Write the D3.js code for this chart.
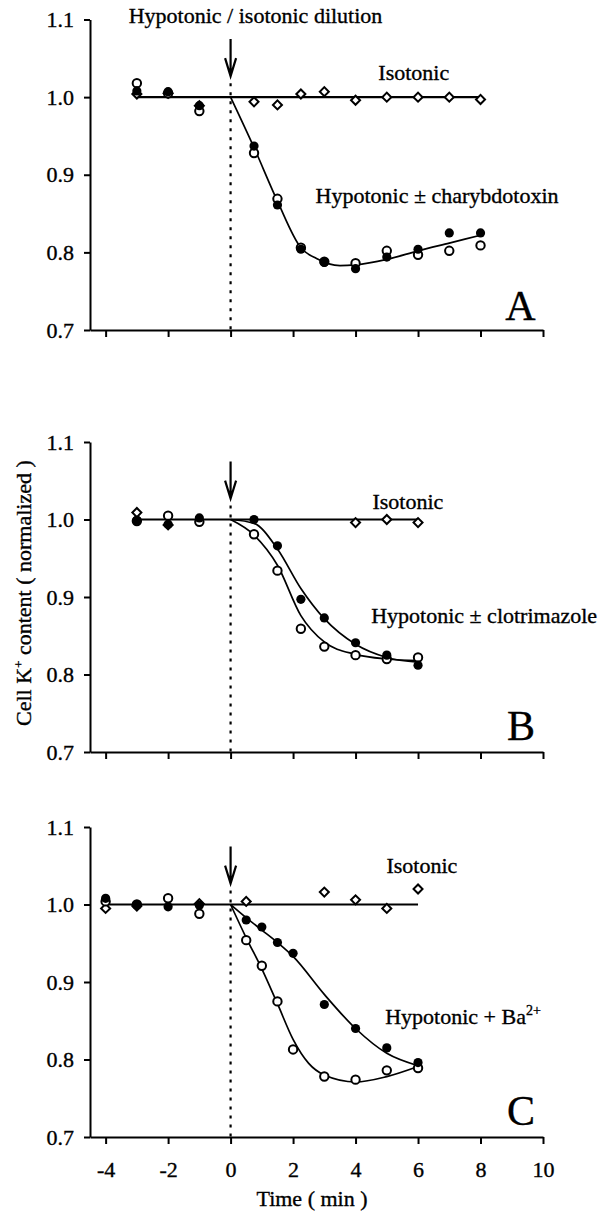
<!DOCTYPE html>
<html>
<head>
<meta charset="utf-8">
<script src="https://d3js.org/d3.v7.min.js"></script>
<style>
  body { margin: 0; background: #fff; }
  svg text { font-family: "Liberation Serif", "Times New Roman", serif; fill: #000; stroke: #000; stroke-width: 0.35; }
  .axis path, .axis line { stroke: #000; stroke-width: 2; }
  .axis text { font-size: 22px; }
</style>
</head>
<body>
<svg id="fig" width="603" height="1214"></svg>
<script>

// ---- data (time in min, K+ normalized)
const timeTicks = [-4, -2, 0, 2, 4, 6, 8, 10];
const kTicks = [0.7, 0.8, 0.9, 1.0, 1.1];

// Panel A : hypotonic +/- charybdotoxin
const aTime = [-3, -2, -1, 0.75, 1.5, 2.25, 3, 4, 5, 6, 7, 8];
const aFilled = [1.008, 1.007, 0.989, 0.937, 0.861, 0.804, 0.787, 0.779, 0.794, 0.804, 0.825, 0.825];
const aOpen = [1.018, 1.005, 0.982, 0.928, 0.869, 0.806, 0.788, 0.786, 0.802, 0.797, 0.802, 0.809];
const aIso = [1.004, 1.005, 0.989, 0.994, 0.990, 1.004, 1.007, 0.996, 1.000, 1.000, 1.000, 0.997];
const aIsoLine = [-3, 8];
const aFitTime = [0, 0.75, 1.5, 2.25, 2.75, 3.5, 4, 5, 6, 7, 8];
const aFit = [1.0, 0.935, 0.866, 0.806, 0.792, 0.783, 0.784, 0.791, 0.802, 0.812, 0.822];

// Panel B : hypotonic +/- clotrimazole
const bTime = [-3, -2, -1, 0.75, 1.5, 2.25, 3, 4, 5, 6];
const bFilled = [0.999, 0.994, 1.002, 1.000, 0.966, 0.897, 0.873, 0.841, 0.825, 0.812];
const bOpen = [0.998, 1.005, 0.997, 0.981, 0.934, 0.859, 0.836, 0.825, 0.820, 0.822];
const bIsoTime = [-3, -2, 4, 5, 6];
const bIso = [1.009, 0.993, 0.996, 1.000, 0.996];
const bIsoLine = [-3, 6];
const bFilledFitTime = [0, 0.75, 1.5, 2.25, 3, 4, 5, 6];
const bFilledFit = [1.0, 0.995, 0.962, 0.911, 0.872, 0.839, 0.822, 0.816];
const bOpenFitTime = [0, 0.75, 1.5, 2.25, 3, 4, 5, 6];
const bOpenFit = [1.0, 0.980, 0.941, 0.876, 0.842, 0.826, 0.820, 0.818];

// Panel C : hypotonic + Ba2+
const cTime = [-4, -3, -2, -1, 0.5, 1, 1.5, 2, 3, 4, 5, 6];
const cFilled = [1.008, 1.000, 0.997, 0.999, 0.980, 0.971, 0.951, 0.937, 0.871, 0.840, 0.815, 0.796];
const cOpen = [1.004, 1.000, 1.008, 0.988, 0.954, 0.921, 0.875, 0.813, 0.778, 0.774, 0.786, 0.789];
const cIsoTime = [-4, -3, -1, 0.5, 3, 4, 5, 6];
const cIso = [0.995, 0.998, 1.001, 1.004, 1.016, 1.006, 0.995, 1.020];
const cIsoLine = [-4, 6];
const cFilledFitTime = [0, 0.5, 1, 1.5, 2, 3, 4, 5, 6];
const cFilledFit = [1.0, 0.983, 0.967, 0.951, 0.933, 0.884, 0.840, 0.808, 0.792];
const cOpenFitTime = [0, 0.5, 1, 1.5, 2, 2.5, 3, 4, 5, 6];
const cOpenFit = [1.0, 0.957, 0.917, 0.872, 0.826, 0.795, 0.780, 0.771, 0.778, 0.791];


const svg = d3.select('svg#fig');

// shared time scale
const x = d3.scaleLinear().domain([-4.5, 10]).range([90, 543]);

const zip = (t, v) => t.map((d, i) => [d, v[i]]);

function drawPanel(p) {
  const y = d3.scaleLinear().domain([0.7, 1.1]).range([p.bottom, p.top]);
  const g = svg.append('g');

  // axes
  g.append('g').attr('class', 'axis')
    .attr('transform', `translate(${x(-4.5)},0)`)
    .call(d3.axisLeft(y).tickValues(kTicks).tickFormat(d3.format('.1f'))
      .tickSize(6).tickSizeOuter(0).tickPadding(10));

  g.append('g').attr('class', 'axis')
    .attr('transform', `translate(0,${p.bottom})`)
    .call(d3.axisBottom(x).tickValues(timeTicks)
      .tickFormat(p.labels ? (d => String(d)) : '')
      .tickSize(7).tickSizeOuter(0).tickPadding(17));

  // dilution arrow + dotted line at t = 0
  g.append('line')
    .attr('x1', x(0)).attr('x2', x(0))
    .attr('y1', y(1.018)).attr('y2', p.bottom)
    .attr('stroke', '#000').attr('stroke-width', 2.2)
    .attr('stroke-dasharray', '3,6');
  const ay0 = y(1.075), ay1 = y(1.027);
  g.append('path')
    .attr('d', `M${x(0)},${ay0}V${ay1}M${x(0) - 5.5},${ay1 - 18}L${x(0)},${ay1}L${x(0) + 5.5},${ay1 - 18}`)
    .attr('fill', 'none').attr('stroke', '#000').attr('stroke-width', 2.2);

  // isotonic reference line
  g.append('line')
    .attr('x1', x(p.isoLine[0])).attr('x2', x(p.isoLine[1]))
    .attr('y1', y(1)).attr('y2', y(1))
    .attr('stroke', '#000').attr('stroke-width', 2.2);

  // fitted curves
  const line = d3.line().x(d => x(d[0])).y(d => y(d[1])).curve(d3.curveMonotoneX);
  p.fits.forEach(f => {
    g.append('path').datum(f)
      .attr('d', line)
      .attr('fill', 'none').attr('stroke', '#000').attr('stroke-width', 1.7);
  });

  // isotonic diamonds
  g.selectAll('.iso').data(p.iso).join('path')
    .attr('transform', d => `translate(${x(d[0])},${y(d[1])}) rotate(45)`)
    .attr('d', d3.symbol().type(d3.symbolSquare2).size(52))
    .attr('fill', '#fff').attr('stroke', '#000').attr('stroke-width', 2);

  // open circles
  g.selectAll('.open').data(p.open).join('circle')
    .attr('cx', d => x(d[0])).attr('cy', d => y(d[1])).attr('r', 4.2)
    .attr('fill', '#fff').attr('stroke', '#000').attr('stroke-width', 2);

  // filled circles
  g.selectAll('.filled').data(p.filled).join('circle')
    .attr('cx', d => x(d[0])).attr('cy', d => y(d[1])).attr('r', 4.6)
    .attr('fill', '#000');

  // annotations
  p.notes.forEach(n => {
    const t = g.append('text')
      .attr('x', x(n.t)).attr('y', y(n.v))
      .style('font-size', (n.size || 22) + 'px')
      .text(n.text);
    if (n.sup) {
      t.append('tspan').attr('dy', -9).style('font-size', '14px').text(n.sup);
    }
  });

  return y;
}

drawPanel({
  top: 19.5, bottom: 330, labels: false,
  isoLine: aIsoLine,
  fits: [zip(aFitTime, aFit)],
  iso: zip(aTime, aIso),
  open: zip(aTime, aOpen),
  filled: zip(aTime, aFilled),
  notes: [
    { t: -3.26, v: 1.095, text: 'Hypotonic / isotonic dilution' },
    { t: 4.73, v: 1.022, text: 'Isotonic' },
    { t: 2.72, v: 0.863, text: 'Hypotonic ± charybdotoxin' },
    { t: 8.79, v: 0.713, text: 'A', size: 42 }
  ]
});

const yB = drawPanel({
  top: 442, bottom: 752, labels: false,
  isoLine: bIsoLine,
  fits: [zip(bFilledFitTime, bFilledFit), zip(bOpenFitTime, bOpenFit)],
  iso: zip(bIsoTime, bIso),
  open: zip(bTime, bOpen),
  filled: zip(bTime, bFilled),
  notes: [
    { t: 4.54, v: 1.014, text: 'Isotonic' },
    { t: 4.5, v: 0.866, text: 'Hypotonic ± clotrimazole' },
    { t: 8.85, v: 0.7155, text: 'B', size: 42 }
  ]
});

drawPanel({
  top: 827, bottom: 1137, labels: true,
  isoLine: cIsoLine,
  fits: [zip(cFilledFitTime, cFilledFit), zip(cOpenFitTime, cOpenFit)],
  iso: zip(cIsoTime, cIso),
  open: zip(cTime, cOpen),
  filled: zip(cTime, cFilled),
  notes: [
    { t: 4.99, v: 1.041, text: 'Isotonic' },
    { t: 4.95, v: 0.846, text: 'Hypotonic + Ba', sup: '2+' },
    { t: 8.85, v: 0.7155, text: 'C', size: 42 }
  ]
});

// axis titles
const yTitle = svg.append('text')
  .attr('transform', `translate(31,${yB(0.905)}) rotate(-90)`)
  .attr('text-anchor', 'middle')
  .style('font-size', '22px');
yTitle.append('tspan').text('Cell  K');
yTitle.append('tspan').attr('dy', -8).style('font-size', '13px').text('+');
yTitle.append('tspan').attr('dy', 8).text(' content  ( normalized )');

svg.append('text')
  .attr('x', 312).attr('y', 1206)
  .attr('text-anchor', 'middle')
  .style('font-size', '22px')
  .text('Time  ( min )');

</script>
</body>
</html>
